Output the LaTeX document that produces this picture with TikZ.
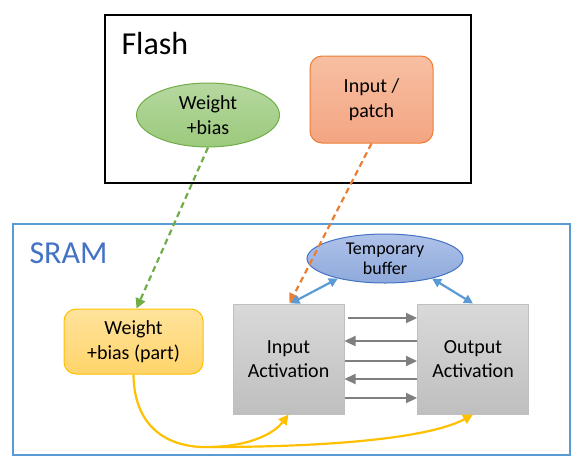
\documentclass[tikz,border=0pt]{standalone}
\usepackage{fontspec}
\setmainfont{Carlito}
\usetikzlibrary{shapes.geometric,arrows.meta}
\definecolor{gborder}{HTML}{70AD47}
\definecolor{gtop}{HTML}{B5D7A0}
\definecolor{gbot}{HTML}{9CCA7C}
\definecolor{oborder}{HTML}{ED7D31}
\definecolor{otop}{HTML}{F7BFA2}
\definecolor{obot}{HTML}{F4A582}
\definecolor{yborder}{HTML}{FFC000}
\definecolor{ytop}{HTML}{FFE39C}
\definecolor{ybot}{HTML}{FFD46A}
\definecolor{bborder}{HTML}{4472C4}
\definecolor{btop}{HTML}{AFC2E9}
\definecolor{bbot}{HTML}{8EA9DB}
\definecolor{sram}{HTML}{5B9BD5}
\definecolor{sramtext}{HTML}{4472C4}
\definecolor{grayline}{HTML}{7F7F7F}
\definecolor{graytop}{HTML}{D9D9D9}
\definecolor{graybot}{HTML}{BFBFBF}
\definecolor{grayborder}{HTML}{BFBFBF}
\tikzset{
  lbl/.style={font=\fontsize{20}{24.4}\selectfont, align=center, text=black},
  ellgreen/.style={ellipse, draw=gborder, line width=1pt, top color=gtop, bottom color=gbot, minimum width=143, minimum height=64, inner sep=0pt, lbl},
  boxorange/.style={rectangle, rounded corners=12pt, draw=oborder, line width=1pt, top color=otop, bottom color=obot, minimum width=123, minimum height=87, inner sep=0pt, lbl},
  boxyellow/.style={rectangle, rounded corners=12pt, draw=yborder, line width=1pt, top color=ytop, bottom color=ybot, minimum width=139, minimum height=65, inner sep=0pt, lbl},
  ellblue/.style={ellipse, draw=bborder, line width=1pt, top color=btop, bottom color=bbot, minimum width=156, minimum height=49, inner sep=0pt, font=\fontsize{18}{20}\selectfont, align=center},
  actbox/.style={rectangle, draw=grayborder, line width=1pt, top color=graytop, bottom color=graybot, minimum width=111, minimum height=110, inner sep=0pt, lbl},
  container/.style={rectangle, line width=2pt, inner sep=0pt},
  garrow/.style={grayline, line width=2.2pt, -{Triangle[length=11pt,width=10pt]}},
  barrow/.style={sram, line width=2.2pt, {Triangle[length=9pt,width=9pt]}-{Triangle[length=9pt,width=9pt]}},
  dashgreen/.style={gborder, line width=2.2pt, dash pattern=on 6pt off 4pt, -{Triangle[length=10pt,width=10pt]}},
  dashorange/.style={oborder, line width=2.2pt, dash pattern=on 6pt off 4pt, -{Triangle[length=10pt,width=10pt]}},
  yline/.style={yborder, line width=2.2pt},
  yarrow/.style={yborder, line width=2.2pt, -{Triangle[length=10pt,width=10pt]}},
}
\begin{document}
\begin{tikzpicture}[x=1pt,y=-1pt]
\useasboundingbox (0,0) rectangle (581,472);
% containers
\node[container, draw=black, minimum width=366, minimum height=168] (flash) at (288,99) {};
\node[anchor=base west, font=\fontsize{32}{38}\selectfont] (flashlbl) at (118,54) {Flash};
\node[container, draw=sram, minimum width=557, minimum height=231] (sramb) at (291.5,339.5) {};
\node[anchor=base west, font=\fontsize{32}{38}\selectfont, text=sramtext] (sramlbl) at (26,263) {SRAM};
% flash content
\node[ellgreen] (wb) at (208,115) {Weight\\+bias};
\node[boxorange] (ip) at (371.5,99.5) {Input /\\patch};
% sram content
\node[boxyellow] (wbp) at (133.5,341.5) {Weight\\+bias (part)};
\node[actbox] (ia) at (288.5,359) {Input\\Activation};
\node[actbox] (oa) at (473,359) {Output\\Activation};
\node[ellblue] (tb) at (385,258.5) {Temporary\\buffer};
% dashed transfers
\draw[dashgreen] (wb.south) -- ([xshift=3pt]wbp.north);
\draw[dashorange] (ip.south) -- ([xshift=1pt]ia.north);
% temp buffer links
\draw[barrow] ([xshift=2pt]ia.north) -- (tb.203);
\draw[barrow] (oa.north) -- (tb.-23);
% gray arrows
\draw[garrow] ([xshift=3pt]ia.east |- 0,318) -- (oa.west |- 0,318);
\draw[garrow] (oa.west |- 0,341) -- (ia.east |- 0,341);
\draw[garrow] (ia.east |- 0,361) -- (oa.west |- 0,361);
\draw[garrow] (oa.west |- 0,379) -- (ia.east |- 0,379);
\draw[garrow] (ia.east |- 0,398) -- (oa.west |- 0,398);
% yellow curves
\coordinate (junc) at (212,447);
\draw[yline] (wbp.south) .. controls (134,425) and (165,449) .. (junc);
\draw[yarrow] (junc) .. controls (245,446) and (272,436) .. (ia.south);
\draw[yarrow] (junc) .. controls (330,447) and (430,438) .. (oa.south);
\end{tikzpicture}
\end{document}
